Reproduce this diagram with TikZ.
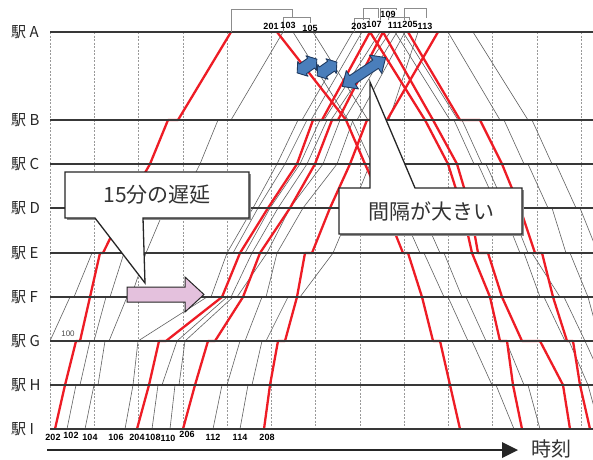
\documentclass[tikz,border=0pt]{standalone}
\usepackage{fontspec}
\setmainfont{Liberation Sans}
\newfontfamily\jp{Noto Sans CJK JP}
\definecolor{trainred}{HTML}{EE1C25}
\definecolor{blueA}{HTML}{4A7EBB}
\definecolor{blueB}{HTML}{1F3A60}
\definecolor{pinkA}{HTML}{E4C1DD}
\def\yA{32}\def\yB{120}\def\yC{164}\def\yD{208}\def\yE{253}\def\yF{297}\def\yG{341}\def\yH{385}\def\yI{429}
\begin{document}
\begin{tikzpicture}[x=1pt,y=-1pt,
  gl/.style={draw=black!62, line width=0.6pt, line join=round},
  rl/.style={draw=trainred, line width=2.3pt, line join=round},
  stline/.style={draw=black!78, line width=1.2pt},
  grid/.style={draw=black!40, line width=0.5pt, dash pattern=on 2pt off 1.5pt},
  brk/.style={draw=black!45, line width=0.6pt},
  num/.style={font=\bfseries\fontsize{9}{9}\selectfont, inner sep=0pt},
  stlab/.style={font=\jp\fontsize{15}{15}\selectfont, anchor=west, inner sep=0pt, text=black!85},
  callout/.style={fill=white, draw=black!85, line width=1.3pt, line join=miter},
  blue2/.style={fill=blueA, draw=blueB, line width=0.9pt, line join=round}]
\useasboundingbox (0,0) rectangle (593,459);
\fill[white] (0,0) rectangle (593,459);
% grid verticals
\foreach \k in {0,...,12}{\draw[grid] ({50+44.25*\k},\yA) -- ({50+44.25*\k},\yI);}
\begin{scope}
\clip (50,0) rectangle (593,459);
% gray up lines
\draw[gl] (50,\yG)--(70,\yF)--(74,\yF)--(92,\yE);
\draw[gl] (245,\yE)--(270,\yD)--(300,\yC)--(320,\yB)--(324,\yB)--(380,\yA);
\draw[gl] (67,\yI)--(76,\yH)--(80,\yH)--(90,\yG)--(94,\yG)--(106,\yF)--(110,\yF)--(124,\yE);
\draw[gl] (233,\yE)--(258,\yD)--(285,\yC)--(307,\yB)--(311,\yB)--(362,\yA);
\draw[gl] (85,\yI)--(94,\yH)--(98,\yH)--(105,\yG)--(109,\yG)--(127,\yF)--(131,\yF)--(146,\yE)--(165,\yD);
\draw[gl] (178,\yD)--(200,\yC)--(218,\yB)--(231,\yB)--(283,\yA);
\draw[gl] (125,\yI)--(133,\yH)--(138,\yG)--(207,\yF)--(211,\yF)--(227,\yE)--(253,\yD)--(277,\yC)--(298,\yB)--(302,\yB)--(353,\yA);
\draw[gl] (152,\yI)--(158,\yH)--(162,\yH)--(177,\yG)--(227,\yF)--(231,\yF)--(252,\yE)--(278,\yD)--(307,\yC)--(327,\yB)--(331,\yB)--(390,\yA);
\draw[gl] (170,\yI)--(175,\yH)--(179,\yH)--(185,\yG)--(233,\yF)--(237,\yF)--(267,\yE)--(290,\yD)--(323,\yC)--(340,\yB)--(344,\yB)--(397,\yA);
\draw[gl] (213,\yI)--(222,\yH)--(227,\yH)--(240,\yG)--(245,\yG)--(262,\yF)--(266,\yF)--(277,\yE)--(303,\yD)--(337,\yC)--(353,\yB)--(357,\yB)--(405,\yA);
\draw[gl] (240,\yI)--(248,\yH)--(252,\yH)--(262,\yG)--(266,\yG)--(288,\yF)--(300,\yF)--(333,\yE)--(352,\yD)--(370,\yC)--(385,\yB)--(389,\yB)--(418,\yA);
% gray down lines
\draw[gl] (293,\yA)--(348,\yB)--(352,\yB)--(372,\yC)--(376,\yC)--(396,\yD)--(400,\yD)--(420,\yE)--(424,\yE)--(444,\yF)--(448,\yF)--(468,\yG)--(472,\yG)--(492,\yH)--(496,\yH)--(514,\yI);
\draw[gl] (313,\yA)--(368,\yB)--(372,\yB)--(392,\yC)--(396,\yC)--(416,\yD)--(420,\yD)--(440,\yE)--(444,\yE)--(462,\yF)--(466,\yF)--(486,\yG)--(506,\yG)--(524,\yH)--(528,\yH)--(540,\yI);
\draw[gl] (395,\yA)--(450,\yB)--(454,\yB)--(474,\yC)--(478,\yC)--(498,\yD)--(502,\yD)--(520,\yE)--(524,\yE)--(540,\yF)--(544,\yF)--(565,\yG)--(569,\yG)--(588,\yH)--(600,\yI);
\draw[gl] (403,\yA)--(458,\yB)--(462,\yB)--(482,\yC)--(486,\yC)--(506,\yD)--(510,\yD)--(528,\yE)--(532,\yE)--(560,\yF)--(564,\yF)--(585,\yG)--(605,\yH);
\draw[gl] (448,\yA)--(500,\yB)--(504,\yB)--(524,\yC)--(528,\yC)--(548,\yD)--(552,\yD)--(566,\yE)--(570,\yE)--(588,\yF)--(600,\yG);
\draw[gl] (473,\yA)--(528,\yB)--(532,\yB)--(552,\yC)--(556,\yC)--(576,\yD)--(580,\yD)--(598,\yE);
% red up lines
\draw[rl] (55,\yI)--(65,\yH)--(76,\yG)--(80,\yG)--(90,\yF)--(100,\yE)--(103,\yE)--(125,\yD)--(150,\yC)--(168,\yB)--(178,\yB)--(231,\yA);
\draw[rl] (137,\yI)--(149,\yH)--(159,\yG)--(166,\yG)--(222,\yF)--(240,\yE)--(268,\yD)--(297,\yC)--(313,\yB)--(322,\yB)--(370,\yA);
\draw[rl] (183,\yI)--(195,\yH)--(208,\yG)--(215,\yG)--(243,\yF)--(260,\yE)--(290,\yD)--(315,\yC)--(332,\yB)--(338,\yB)--(383,\yA);
\draw[rl] (264,\yI)--(270,\yH)--(278,\yG)--(285,\yG)--(297,\yF)--(305,\yE)--(312,\yE)--(330,\yD)--(350,\yC)--(367,\yB)--(387,\yB)--(438,\yA);
% red down lines
\draw[rl] (277,\yA)--(346,\yB)--(365,\yC)--(385,\yD)--(403,\yE)--(408,\yE)--(422,\yF)--(433,\yG)--(440,\yG)--(450,\yH)--(460,\yI);
\draw[rl] (370,\yA)--(425,\yB)--(448,\yC)--(462,\yD)--(472,\yE)--(490,\yF)--(500,\yG)--(507,\yG)--(513,\yH)--(522,\yI);
\draw[rl] (383,\yA)--(433,\yB)--(457,\yC)--(470,\yD)--(478,\yE)--(488,\yE)--(502,\yF)--(522,\yG)--(540,\yG)--(563,\yH)--(570,\yI);
\draw[rl] (408,\yA)--(460,\yB)--(480,\yB)--(502,\yC)--(520,\yD)--(535,\yE)--(542,\yE)--(553,\yF)--(567,\yG)--(573,\yG)--(580,\yH)--(590,\yI);
\end{scope}
% station lines
\foreach \yy in {\yA,\yB,\yC,\yD,\yE,\yF,\yG,\yH,\yI}{\draw[stline] (50,\yy) -- (593,\yy);}
% station labels
\node[stlab] (sA) at (11,\yA) {駅 A};
\node[stlab] (sB) at (11,\yB) {駅 B};
\node[stlab] (sC) at (11,\yC) {駅 C};
\node[stlab] (sD) at (11,\yD) {駅 D};
\node[stlab] (sE) at (11,\yE) {駅 E};
\node[stlab] (sF) at (11,\yF) {駅 F};
\node[stlab] (sG) at (11,\yG) {駅 G};
\node[stlab] (sH) at (11,\yH) {駅 H};
\node[stlab] (sI) at (11,\yI) {駅 I};
% brackets at top
\draw[brk] (231,\yA)--(231,9)--(292,9)--(292,18);
\draw[brk] (283,\yA)--(283,17)--(310,17)--(310,23);
\draw[brk] (354,\yA)--(354,18)--(369,18)--(369,20);
\draw[brk] (363,20)--(363,8)--(378,8)--(378,18);
\draw[brk] (380,20)--(380,8)--(396,8)--(396,10);
\draw[brk] (388,20)--(388,17)--(409,17)--(409,20);
\draw[brk] (404,20)--(404,8)--(426,8)--(426,18);
% top labels
\node[num] (t201) at (271,26) {201};
\node[num] (t103) at (288,25) {103};
\node[num] (t105) at (310,28) {105};
\node[num] (t203) at (359,26) {203};
\node[num] (t107) at (374,24) {107};
\node[num] (t109) at (388,14) {109};
\node[num] (t111) at (395,25) {111};
\node[num] (t205) at (410,24) {205};
\node[num] (t113) at (425,26) {113};
% bottom labels
\node[num] (b202) at (53,437) {202};
\node[num] (b102) at (71,435) {102};
\node[num] (b104) at (90,437) {104};
\node[num] (b106) at (116,437) {106};
\node[num] (b204) at (137,437) {204};
\node[num] (b108) at (153,437) {108};
\node[num] (b110) at (168,438) {110};
\node[num] (b206) at (187,434) {206};
\node[num] (b112) at (213,437) {112};
\node[num] (b114) at (240,437) {114};
\node[num] (b208) at (267,437) {208};
\node[font=\fontsize{8}{8}\selectfont, text=black!70, inner sep=0pt] (l100) at (68,334) {100};
% time axis
\coordinate (ax0) at (47,450);
\coordinate (ax1) at (518,450);
\draw[line width=2.2pt, black!85] (ax0) -- (502,450);
\fill[black!85] (502,442) -- (ax1) -- (502,458) -- cycle;
\node[font=\jp\fontsize{20}{20}\selectfont, text=black!80, inner sep=0pt] (tlab) at (551,449) {時刻};
% callout 1
\fill[black!45] (67,174) rectangle (251,220);
\draw[callout] (65,172) -- (249,172) -- (249,218) -- (143,218) -- (145,283) -- (95,218) -- (65,218) -- cycle;
\node[font=\jp\fontsize{21}{21}\selectfont, text=black!80, inner sep=0pt] (c1) at (157,195) {15分の遅延};
% callout 2
\fill[black!45] (341,190) rectangle (524,236);
\draw[callout] (339,188) -- (370,188) -- (370,82) -- (415,188) -- (522,188) -- (522,234) -- (339,234) -- cycle;
\node[font=\jp\fontsize{21}{21}\selectfont, text=black!80, inner sep=0pt] (c2) at (431,211) {間隔が大きい};
% pink arrow
\draw[fill=pinkA, draw=black!85, line width=1pt] (127,287) -- (185,287) -- (185,277) -- (204,294.5) -- (185,312) -- (185,302) -- (127,302) -- cycle;
% blue double arrows
\begin{scope}[shift={(364,72)}, rotate=33.7]
\draw[blue2] (-26,0) -- (-14,11) -- (-14,5) -- (14,5) -- (14,11) -- (26,0) -- (14,-11) -- (14,-5) -- (-14,-5) -- (-14,-11) -- cycle;
\end{scope}
\begin{scope}[shift={(307,66)}, rotate=35]
\draw[blue2] (-12,0) -- (-5,9) -- (-5,6) -- (5,6) -- (5,9) -- (12,0) -- (5,-9) -- (5,-6) -- (-5,-6) -- (-5,-9) -- cycle;
\end{scope}
\begin{scope}[shift={(327,69)}, rotate=35]
\draw[blue2] (-12,0) -- (-5,9) -- (-5,6) -- (5,6) -- (5,9) -- (12,0) -- (5,-9) -- (5,-6) -- (-5,-6) -- (-5,-9) -- cycle;
\end{scope}
\end{tikzpicture}
\end{document}
